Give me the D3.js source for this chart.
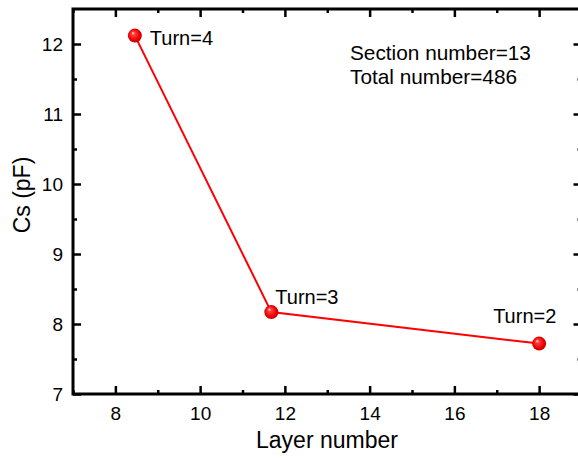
<!DOCTYPE html>
<html>
<head>
<meta charset="utf-8">
<script src="https://d3js.org/d3.v7.min.js"></script>
<style>
  body { margin: 0; background: #fff; }
  text { font-family: "Liberation Sans", Arial, sans-serif; fill: #000; }
</style>
</head>
<body>
<div id="chart"></div>
<script>
var svgWidth = 578;
var svgHeight = 459;

// data
var layers = [8.46, 11.68, 18];
var cs = [12.12, 8.17, 7.72];
var turnLabels = ["Turn=4", "Turn=3", "Turn=2"];
var xTicks = [8, 10, 12, 14, 16, 18];
var yTicks = [7, 8, 9, 10, 11, 12];
var notes = ["Section number=13", "Total number=486"];

var margin = { top: 9, right: -3.5, bottom: 65, left: 73 };
var width = svgWidth - margin.left - margin.right;
var height = svgHeight - margin.top - margin.bottom;

var svg = d3.select("#chart")
    .append("svg")
    .attr("width", svgWidth)
    .attr("height", svgHeight);

var defs = svg.append("defs");
var grad = defs.append("radialGradient")
    .attr("id", "ball")
    .attr("cx", "50%").attr("cy", "50%").attr("r", "55%")
    .attr("fx", "35%").attr("fy", "30%");
grad.append("stop").attr("offset", "0%").attr("stop-color", "#fff0f0");
grad.append("stop").attr("offset", "22%").attr("stop-color", "#ff4040");
grad.append("stop").attr("offset", "70%").attr("stop-color", "#f00000");
grad.append("stop").attr("offset", "100%").attr("stop-color", "#b00000");

var chartGroup = svg.append("g")
    .attr("transform", `translate(${margin.left}, ${margin.top})`);

var points = layers.map((x, i) => ({ x: x, y: cs[i], label: turnLabels[i] }));

var xScale = d3.scaleLinear().domain([7, 19]).range([0, width]);
var yScale = d3.scaleLinear().domain([7, 12.5]).range([height, 0]);

var xMinor = d3.range(7, 20, 1).filter(v => xTicks.indexOf(v) < 0);
var yMinor = d3.range(7.5, 12.5, 1);

// axes: major ticks inward, minor ticks inward
function styleAxis(g) {
    g.select(".domain").remove();
    g.selectAll("line").attr("stroke", "#000").attr("stroke-width", 2.5);
    g.selectAll("text").style("font-size", "19px");
}

chartGroup.append("g")
    .attr("transform", `translate(0, ${height})`)
    .call(d3.axisBottom(xScale).tickValues(xTicks).tickSize(-8).tickPadding(13).tickFormat(d3.format("d")))
    .call(styleAxis);
chartGroup.append("g")
    .attr("transform", `translate(0, ${height})`)
    .call(d3.axisBottom(xScale).tickValues(xMinor).tickSize(-4).tickFormat(""))
    .call(styleAxis);
chartGroup.append("g")
    .call(d3.axisTop(xScale).tickValues(xTicks).tickSize(-8).tickFormat(""))
    .call(styleAxis);
chartGroup.append("g")
    .call(d3.axisTop(xScale).tickValues(xMinor).tickSize(-4).tickFormat(""))
    .call(styleAxis);

chartGroup.append("g")
    .call(d3.axisLeft(yScale).tickValues(yTicks).tickSize(-8).tickPadding(10).tickFormat(d3.format("d")))
    .call(styleAxis);
chartGroup.append("g")
    .call(d3.axisLeft(yScale).tickValues(yMinor).tickSize(-4).tickFormat(""))
    .call(styleAxis);
chartGroup.append("g")
    .attr("transform", `translate(${width}, 0)`)
    .call(d3.axisRight(yScale).tickValues(yTicks).tickSize(-8).tickFormat(""))
    .call(styleAxis);
chartGroup.append("g")
    .attr("transform", `translate(${width}, 0)`)
    .call(d3.axisRight(yScale).tickValues(yMinor).tickSize(-4).tickFormat(""))
    .call(styleAxis);

// frame
chartGroup.append("rect")
    .attr("width", width)
    .attr("height", height)
    .attr("fill", "none")
    .attr("stroke", "#000")
    .attr("stroke-width", 3);

// line + markers
var line = d3.line().x(d => xScale(d.x)).y(d => yScale(d.y));
chartGroup.append("path")
    .datum(points)
    .attr("d", line)
    .attr("fill", "none")
    .attr("stroke", "#ff0000")
    .attr("stroke-width", 2);

chartGroup.selectAll("circle.pt")
    .data(points)
    .enter()
    .append("circle")
    .attr("class", "pt")
    .attr("cx", d => xScale(d.x))
    .attr("cy", d => yScale(d.y))
    .attr("r", 7)
    .attr("fill", "url(#ball)");

// point labels
var labelOffsets = [[15, 9], [4, -8], [-46, -21]];
chartGroup.selectAll("text.turn")
    .data(points)
    .enter()
    .append("text")
    .attr("class", "turn")
    .attr("x", (d, i) => xScale(d.x) + labelOffsets[i][0])
    .attr("y", (d, i) => yScale(d.y) + labelOffsets[i][1])
    .style("font-size", "20px")
    .text(d => d.label);

// annotation
chartGroup.selectAll("text.note")
    .data(notes)
    .enter()
    .append("text")
    .attr("class", "note")
    .attr("x", 350 - margin.left)
    .attr("y", (d, i) => 60 - margin.top + i * 24)
    .style("font-size", "20.8px")
    .text(d => d);

// axis titles
chartGroup.append("text")
    .attr("transform", `translate(${22 - margin.left}, ${195 - margin.top}) rotate(-90)`)
    .attr("text-anchor", "middle")
    .attr("dy", "0.35em")
    .style("font-size", "23px")
    .text("Cs (pF)");

chartGroup.append("text")
    .attr("x", 327 - margin.left)
    .attr("y", 448 - margin.top)
    .attr("text-anchor", "middle")
    .style("font-size", "23px")
    .text("Layer number");
</script>
</body>
</html>
